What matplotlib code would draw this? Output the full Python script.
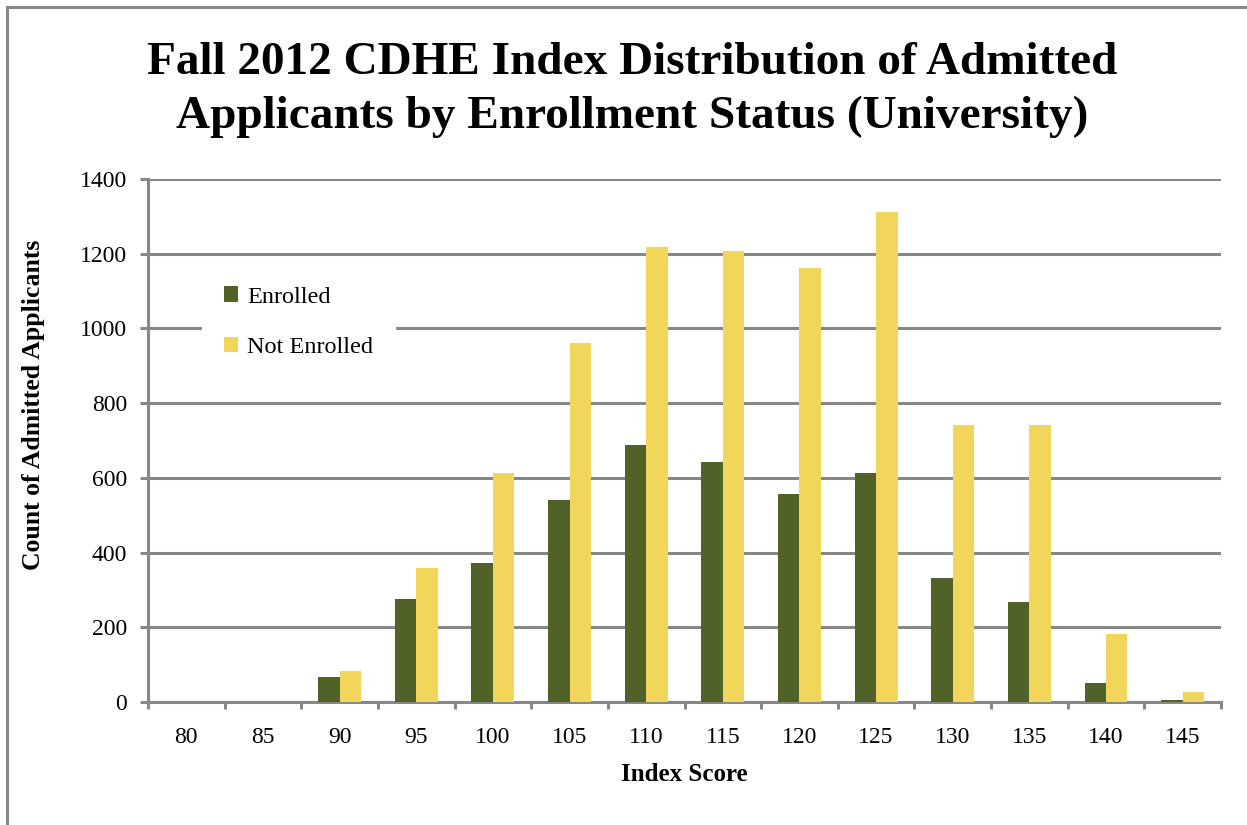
import numpy as np
import matplotlib.pyplot as plt
from matplotlib.patches import Rectangle

# Fall 2012 admitted applicants, counts
index_scores = ['80', '85', '90', '95', '100', '105', '110', '115',
                '120', '125', '130', '135', '140', '145']
enrolled = [0, 0, 67, 275, 372, 540, 688, 642, 556, 614, 332, 268, 50, 5]
not_enrolled = [0, 0, 84, 360, 614, 960, 1219, 1206, 1162, 1311, 741, 741, 182, 27]

plt.rcParams['font.family'] = ['Liberation Serif', 'DejaVu Serif']

green = '#506228'
yellow = '#F2D55B'
grid_gray = '#878787'

fig = plt.figure(figsize=(12.47, 8.25), dpi=100)
ax = fig.add_axes([148 / 1247, 1 - 702 / 825, (1221 - 148) / 1247, (702 - 179) / 825])

# outer frame of the chart area (only left and top visible)
fig.patches.append(Rectangle((7 / 1247, -0.1), 1.2, 1 - 7 / 825 + 0.1,
                             transform=fig.transFigure, fill=False,
                             edgecolor=grid_gray, linewidth=2.2))

x = np.arange(len(index_scores))
w = 0.28
ax.bar(x - w / 2, enrolled, w, color=green, label='Enrolled', zorder=3)
ax.bar(x + w / 2, not_enrolled, w, color=yellow, label='Not Enrolled', zorder=3)

ax.set_xlim(-0.5, len(index_scores) - 0.5)
ax.set_ylim(0, 1400)
ax.set_yticks(np.arange(0, 1401, 200))
ax.set_xticks(x)
ax.set_xticklabels(index_scores)
ax.set_xticks(np.arange(-0.5, len(index_scores)), minor=True)

ax.yaxis.grid(True, color=grid_gray, linewidth=2.2, zorder=0)
ax.set_axisbelow(True)
for side in ['top', 'right']:
    ax.spines[side].set_visible(False)
for side in ['left', 'bottom']:
    ax.spines[side].set_color(grid_gray)
    ax.spines[side].set_linewidth(2.2)

ax.tick_params(axis='y', length=6, width=2.2, color=grid_gray, labelsize=17, pad=9)
ax.tick_params(axis='x', which='major', length=0, labelsize=17, pad=18)
ax.tick_params(axis='x', which='minor', length=5, width=2.2, color=grid_gray)

ax.set_xlabel('Index Score', fontsize=18, fontweight='bold')
ax.xaxis.set_label_coords(0.5, -0.117)
ax.set_ylabel('Count of Admitted Applicants', fontsize=18.5, fontweight='bold')
ax.yaxis.set_label_coords(-0.096, 0.568)

fig.text(0.507, 0.891, 'Fall 2012 CDHE Index Distribution of Admitted\nApplicants by Enrollment Status (University)',
         ha='center', va='center', fontsize=34, fontweight='bold', linespacing=1.35)

leg = ax.legend(loc='upper left', bbox_to_anchor=(0.039, 0.86), frameon=True,
                fontsize=17.5, handlelength=0.6, handleheight=0.6, handletextpad=0.35,
                labelspacing=1.2, borderpad=0.9, fancybox=False)
leg.get_frame().set_edgecolor('white')
leg.get_frame().set_facecolor('white')
leg.get_frame().set_alpha(1)

fig.savefig('out.png', dpi=100)
